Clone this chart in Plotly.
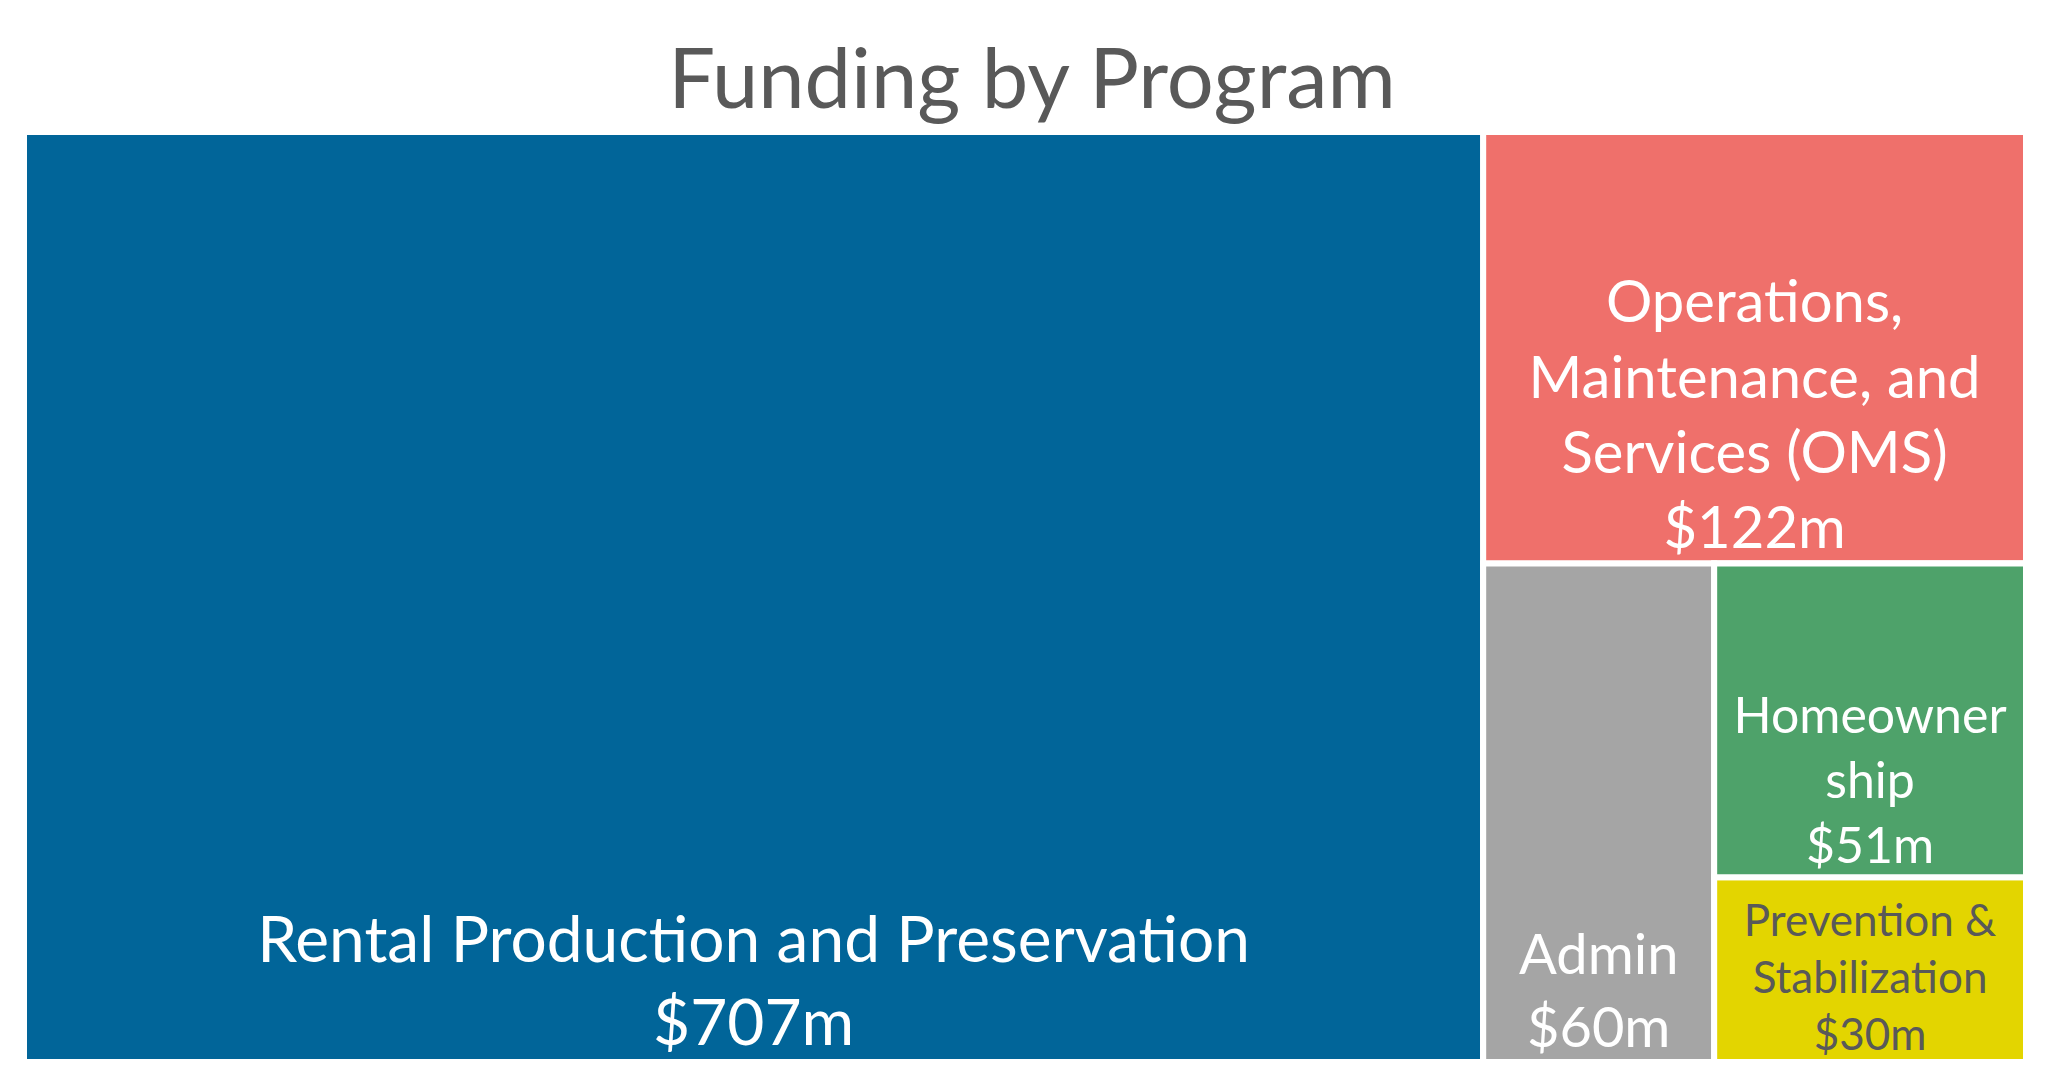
import plotly.graph_objects as go

# ---- data ----
programs = ["Rental Production and Preservation",
            "Operations,<br>Maintenance, and<br>Services (OMS)",
            "Admin",
            "Prevention &<br>Stabilization",
            "Homeowner<br>ship"]
amounts = [707, 122, 60, 30, 51]  # $ millions
# layout grouping (hidden helper nodes reproduce the Excel-style tiling)
leaf_parents = ["all", "right", "bottom", "sub", "sub"]
group_ids = ["all", "right", "bottom", "sub"]
group_parents = ["", "all", "right", "bottom"]
colors = ["#016599", "#EF706B", "#A5A5A5", "#E3D500", "#4EA26A"]
text_colors = ["white", "white", "white", "#595959", "white"]
font_sizes = [64, 58, 56, 44, 50]

leaf_ids = ["rental", "oms", "admin", "prev", "home"]
ids = group_ids + leaf_ids
parents = group_parents + leaf_parents
values = [0] * len(group_ids) + amounts
texts = [""] * len(group_ids) + [f"{p}<br>${a}m" for p, a in zip(programs, amounts)]
mcolors = ["white"] * len(group_ids) + colors
tcolors = ["white"] * len(group_ids) + text_colors
tsizes = [10] * len(group_ids) + font_sizes

FONT = "Lato"

fig = go.Figure(go.Treemap(
    ids=ids,
    labels=ids,
    parents=parents,
    values=values,
    branchvalues="remainder",
    text=texts,
    texttemplate="%{text}",
    textposition="bottom center",
    textfont=dict(family=FONT, color=tcolors, size=tsizes),
    marker=dict(colors=mcolors, line=dict(color="white", width=6),
                pad=dict(t=0, l=0, r=0, b=0), depthfade=False),
    tiling=dict(packing="slice-dice", pad=0, flip="x+y"),
    pathbar=dict(visible=False),
    sort=False,
    hoverinfo="skip",
))

fig.update_layout(
    width=2048, height=1084,
    paper_bgcolor="white",
    margin=dict(l=16, r=30, t=124, b=30),
    title=dict(text="Funding by Program", x=0.5, xanchor="center",
               y=0.935, yanchor="middle",
               font=dict(family=FONT, size=83, color="#595959")),
    showlegend=False,
)

fig.write_html("out.html")
